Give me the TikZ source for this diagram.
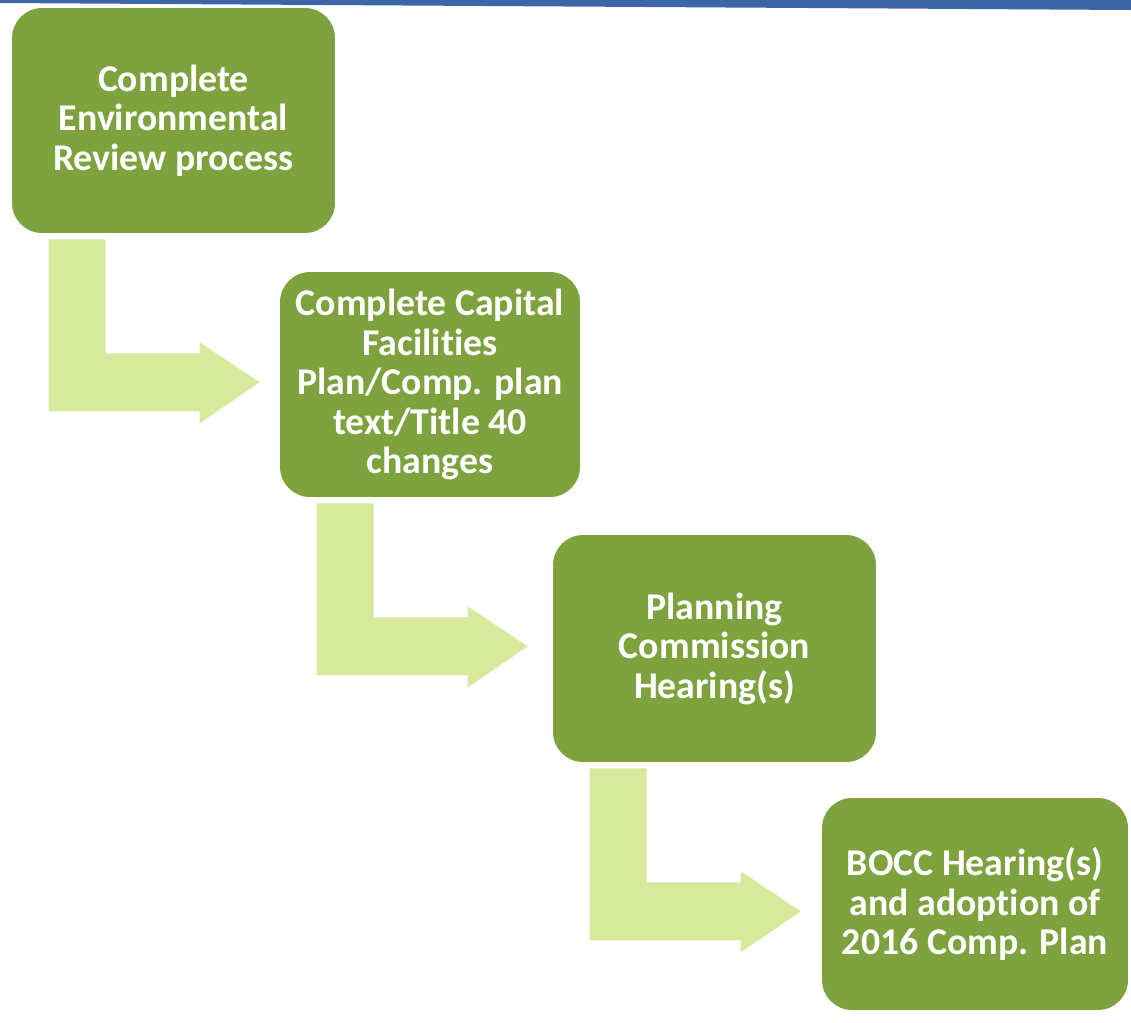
\documentclass[tikz,border=0pt]{standalone}
\usepackage{fontspec}
\setmainfont{Carlito}[Ligatures=NoCommon,Contextuals=NoAlternate,RawFeature={-liga;-clig;-dlig}]
\usepackage{tikz}
\usepackage{xcolor}
\usetikzlibrary{calc}

\definecolor{stepgreen}{HTML}{7DA23E}
\definecolor{arrowgreen}{HTML}{D6E99C}
\definecolor{barblue}{HTML}{3D66A8}

\tikzset{
  stepbox/.style={draw=none,fill=stepgreen,rounded corners=0.6cm,inner sep=0pt,
    align=center,text=white,font=\bfseries\fontsize{21.5}{22.5}\selectfont},
  bentarrow/.style={fill=arrowgreen,draw=none}
}

\begin{document}
\begin{tikzpicture}[x=0.02cm,y=-0.02cm]
\useasboundingbox (0,0) rectangle (1131,1022);
\fill [barblue] (0,0) -- (1131,0) -- (1131,10) -- (0,3) -- cycle;

\node [stepbox,minimum width=6.46cm,minimum height=4.5cm] (b1) at (173.5,120.5)
  {Complete\\Environmental\\Review process};
\node [stepbox,minimum width=6.0cm,minimum height=4.5cm] (b2) at (430,384.5)
  {Complete Capital\\Facilities\\Plan/Comp. plan\\text/Title 40\\changes};
\node [stepbox,minimum width=6.46cm,minimum height=4.54cm] (b3) at (714.5,648.5)
  {Planning\\Commission\\Hearing(s)};
\node [stepbox,minimum width=6.12cm,minimum height=4.24cm] (b4) at (975,904)
  {BOCC Hearing(s)\\and adoption of\\2016 Comp. Plan};

% bent arrows between the steps
\foreach \from in {b1,b2,b3}
  \fill [bentarrow,shift={($(\from.south west)+(37,6)$)}]
    (0,0) -- (57,0) -- (57,114) -- (151,114) -- (151,103) -- (211,143)
    -- (151,184) -- (151,172) -- (0,172) -- cycle;
\end{tikzpicture}
\end{document}
